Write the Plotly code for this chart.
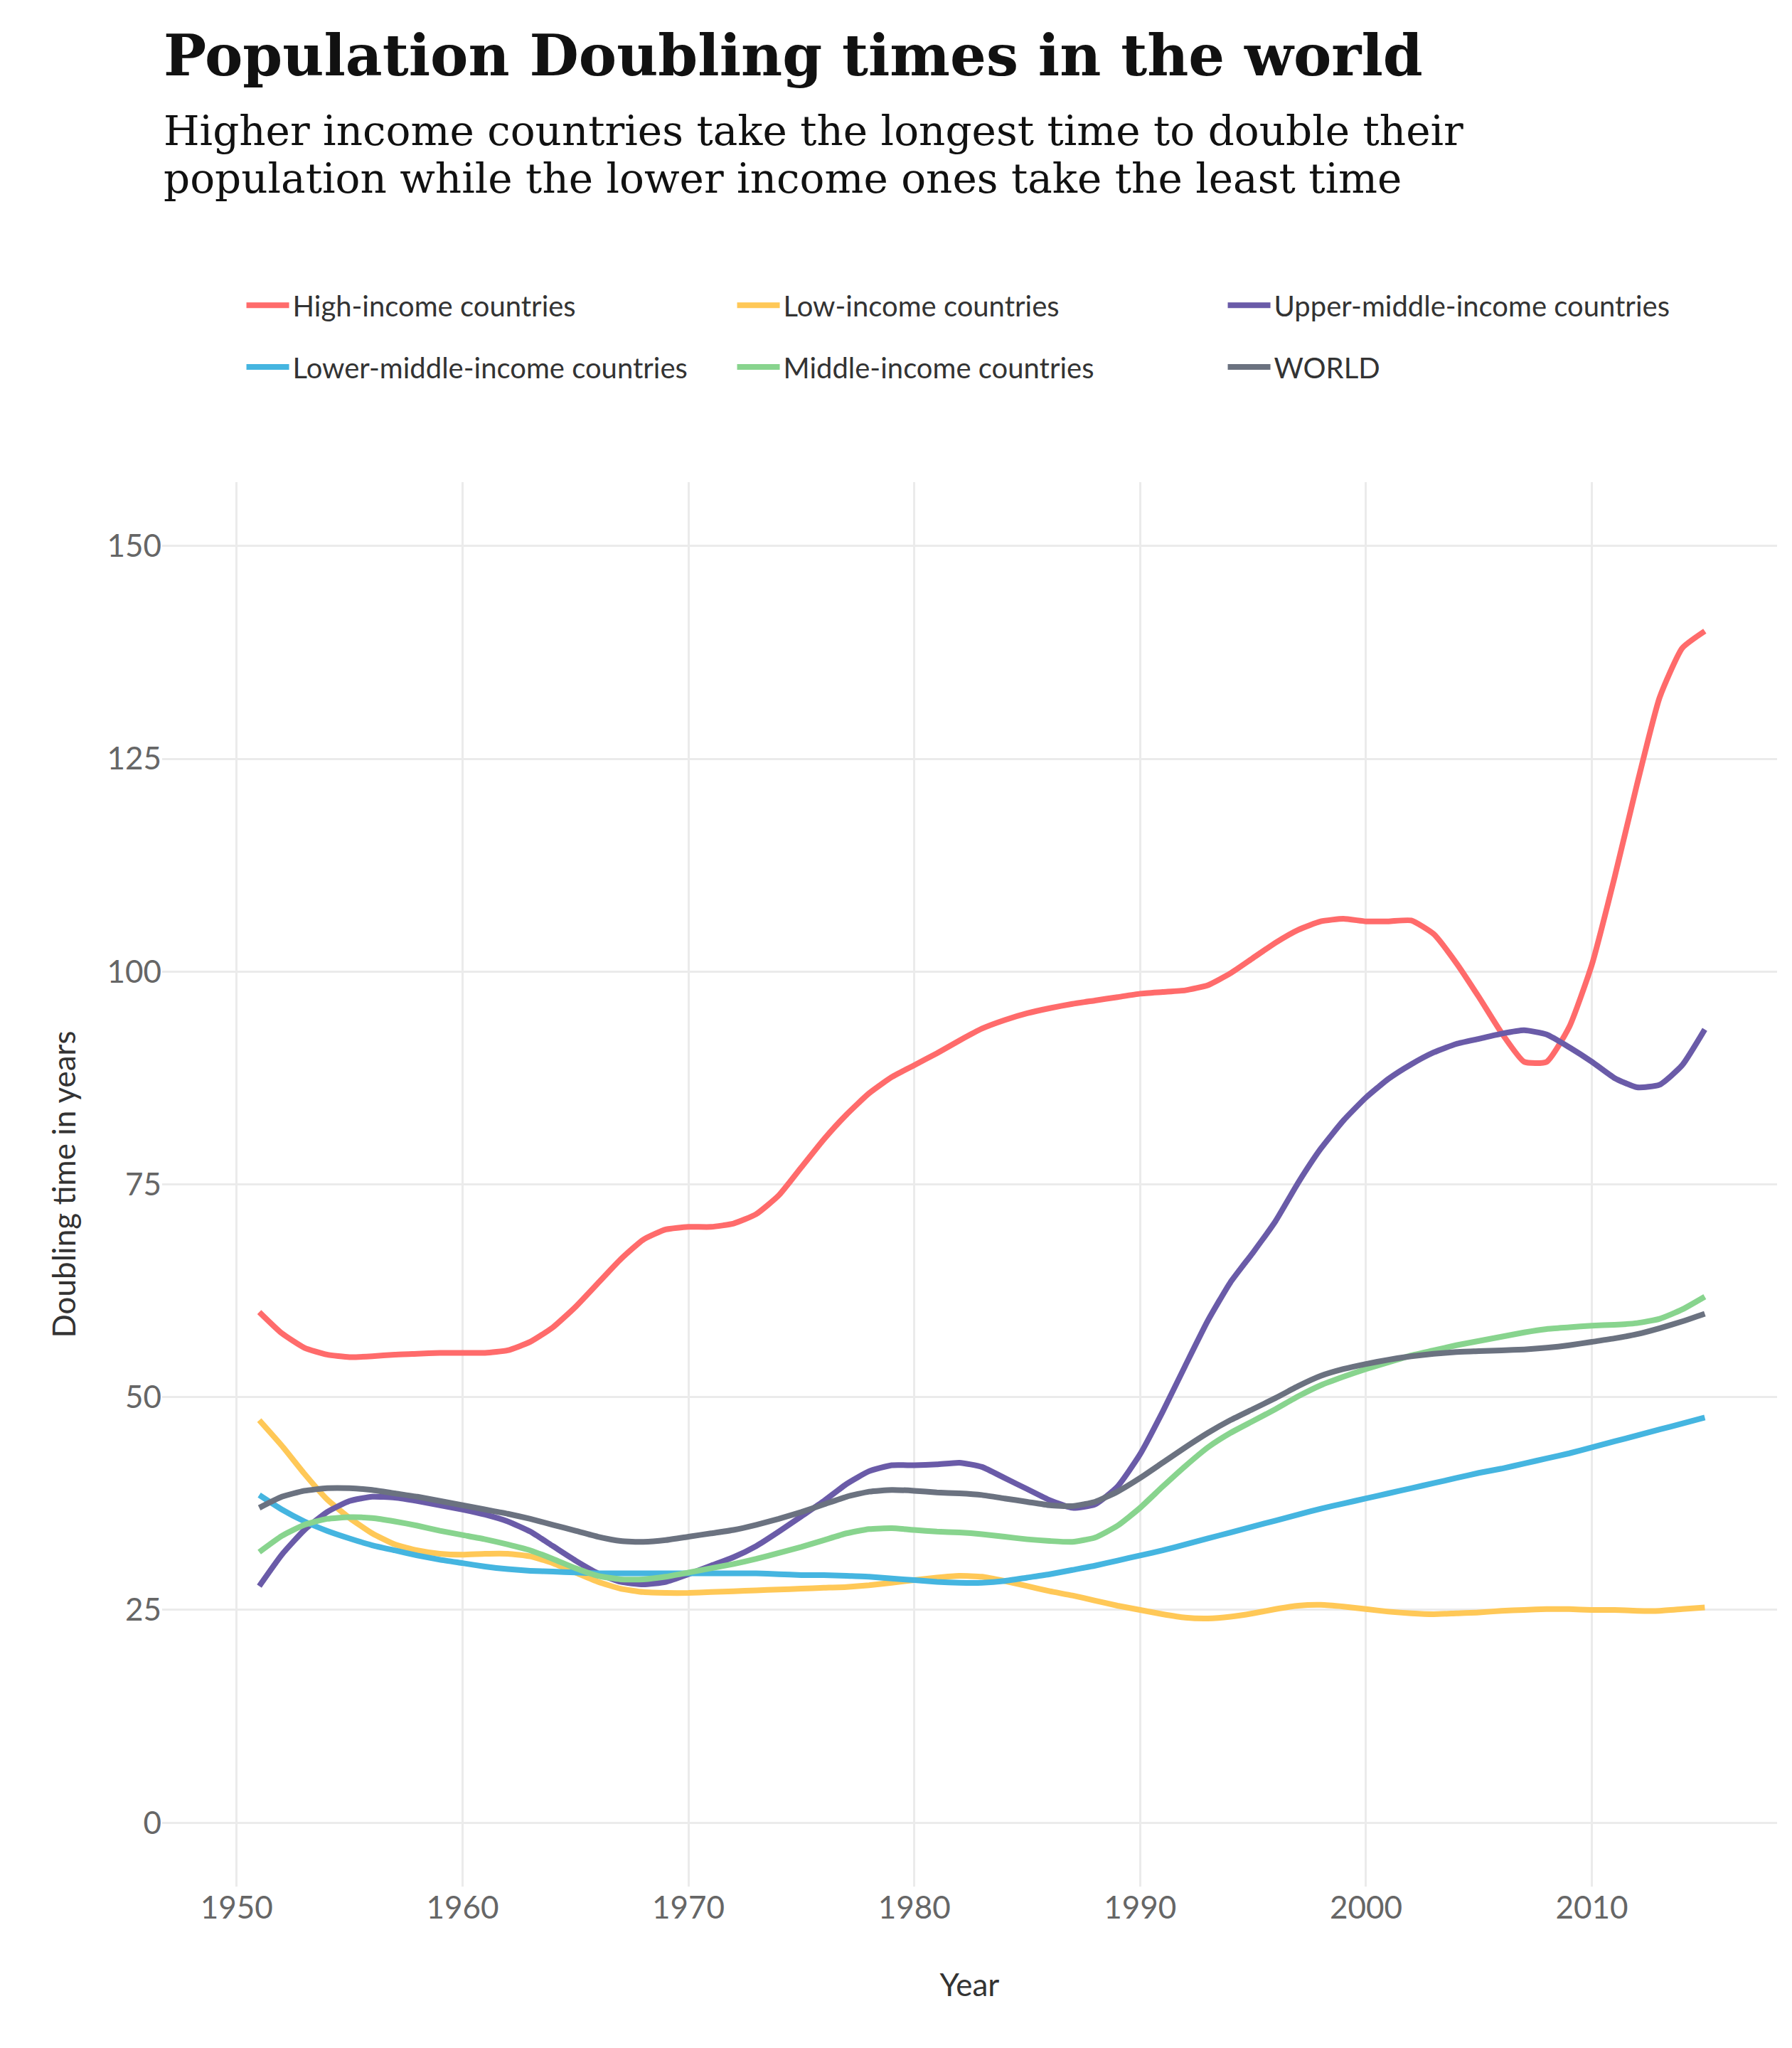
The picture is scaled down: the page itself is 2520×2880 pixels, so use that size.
import plotly.graph_objects as go

years = list(range(1951, 2016))

high_income = [60, 57.5, 55.8, 55, 54.7, 54.8, 55, 55.1, 55.2, 55.2,
               55.2, 55.5, 56.5, 58.2, 60.6, 63.4, 66.2, 68.5, 69.7, 70,
               70, 70.4, 71.5, 73.7, 77, 80.3, 83.2, 85.7, 87.6, 89,
               90.4, 91.9, 93.3, 94.3, 95.1, 95.7, 96.2, 96.6, 97, 97.4,
               97.6, 97.8, 98.4, 99.8, 101.6, 103.4, 104.9, 105.9, 106.2, 105.9,
               105.9, 106, 104.4, 101, 97, 92.8, 89.4, 89.4, 93.5, 100.8,
               111, 122, 132.2, 138, 140]
low_income = [47.3, 44.3, 41, 38, 35.8, 34, 32.7, 32, 31.6, 31.5,
              31.6, 31.6, 31.3, 30.5, 29.4, 28.3, 27.5, 27.1, 27, 27,
              27.1, 27.2, 27.3, 27.4, 27.5, 27.6, 27.7, 27.9, 28.2, 28.5,
              28.8, 29, 28.9, 28.4, 27.8, 27.2, 26.7, 26.1, 25.5, 25,
              24.5, 24.1, 24, 24.2, 24.6, 25.1, 25.5, 25.6, 25.4, 25.1,
              24.8, 24.6, 24.5, 24.6, 24.7, 24.9, 25, 25.1, 25.1, 25,
              25, 24.9, 24.9, 25.1, 25.3]
upper_middle = [27.8, 31.5, 34.4, 36.5, 37.8, 38.3, 38.2, 37.8, 37.3, 36.8,
                36.2, 35.4, 34.2, 32.5, 30.8, 29.3, 28.3, 28, 28.3, 29.2,
                30.2, 31.2, 32.5, 34.2, 36, 37.8, 39.8, 41.3, 42, 42,
                42.1, 42.3, 41.8, 40.5, 39.2, 37.9, 37, 37.4, 39.5, 43.3,
                48.3, 53.7, 59, 63.5, 67, 70.7, 75.2, 79.2, 82.5, 85.2,
                87.4, 89.1, 90.5, 91.5, 92.1, 92.7, 93.1, 92.6, 91.1, 89.4,
                87.5, 86.4, 86.7, 89, 93.2]
lower_middle = [38.5, 36.8, 35.4, 34.3, 33.4, 32.6, 32, 31.4, 30.9, 30.5,
                30.1, 29.8, 29.6, 29.5, 29.4, 29.3, 29.3, 29.3, 29.3, 29.3,
                29.3, 29.3, 29.3, 29.2, 29.1, 29.1, 29, 28.9, 28.7, 28.5,
                28.3, 28.2, 28.2, 28.4, 28.8, 29.2, 29.7, 30.2, 30.8, 31.4,
                32, 32.7, 33.4, 34.1, 34.8, 35.5, 36.2, 36.9, 37.5, 38.1,
                38.7, 39.3, 39.9, 40.5, 41.1, 41.6, 42.2, 42.8, 43.4, 44.1,
                44.8, 45.5, 46.2, 46.9, 47.6]
middle = [31.8, 33.7, 35, 35.7, 35.9, 35.8, 35.4, 34.9, 34.3, 33.8,
          33.3, 32.7, 32, 31, 29.9, 29, 28.6, 28.6, 28.9, 29.4,
          29.9, 30.4, 31, 31.7, 32.4, 33.2, 34, 34.5, 34.6, 34.4,
          34.2, 34.1, 33.9, 33.6, 33.3, 33.1, 33, 33.5, 34.9, 37,
          39.5, 41.9, 44.1, 45.8, 47.2, 48.6, 50.1, 51.4, 52.4, 53.3,
          54.1, 54.9, 55.5, 56.1, 56.6, 57.1, 57.6, 58, 58.2, 58.4,
          58.5, 58.7, 59.2, 60.3, 61.8]
world = [37, 38.3, 39, 39.3, 39.3, 39.1, 38.7, 38.3, 37.8, 37.3,
         36.8, 36.3, 35.7, 35, 34.3, 33.6, 33.1, 33, 33.2, 33.6,
         34, 34.4, 35, 35.7, 36.5, 37.4, 38.3, 38.9, 39.1, 39,
         38.8, 38.7, 38.5, 38.1, 37.7, 37.3, 37.2, 37.7, 38.9, 40.5,
         42.3, 44.1, 45.8, 47.3, 48.6, 49.9, 51.3, 52.5, 53.3, 53.9,
         54.4, 54.8, 55.1, 55.3, 55.4, 55.5, 55.6, 55.8, 56.1, 56.5,
         56.9, 57.4, 58.1, 58.9, 59.8]

# legend rows as in the reference: first three on row one, rest on row two
series = [
    ('High-income countries', high_income, '#FF6B6B', 'legend'),
    ('Low-income countries', low_income, '#FFC857', 'legend'),
    ('Upper-middle-income countries', upper_middle, '#6A5BA8', 'legend'),
    ('Lower-middle-income countries', lower_middle, '#45B5E0', 'legend2'),
    ('Middle-income countries', middle, '#88D48E', 'legend2'),
    ('WORLD', world, '#6B7280', 'legend2'),
]

fig = go.Figure()
for name, vals, color, leg in series:
    fig.add_trace(go.Scatter(
        x=years, y=vals, name=name, mode='lines', legend=leg,
        line=dict(color=color, width=8, shape='spline', smoothing=0.5),
    ))

legend_style = dict(orientation='h', xanchor='left', yanchor='middle',
                    entrywidth=615, font=dict(size=40, color='#333333'),
                    itemwidth=60, bgcolor='rgba(0,0,0,0)')

fig.update_layout(
    width=2520, height=2880,
    paper_bgcolor='white', plot_bgcolor='white',
    margin=dict(l=220, r=29, t=670, b=235),
    font=dict(family='Lato', color='#555555', size=40),
    legend=dict(x=0.05, y=1.126, **legend_style),
    legend2=dict(x=0.05, y=1.082, **legend_style),
    xaxis=dict(
        range=[1946.7, 2018.2], tickvals=[1950, 1960, 1970, 1980, 1990, 2000, 2010],
        showgrid=True, gridcolor='#EBEBEB', gridwidth=3, zeroline=False,
        showline=False, tickfont=dict(size=44, color='#666666'),
        title=dict(text='Year', font=dict(size=44, color='#333333'), standoff=70),
    ),
    yaxis=dict(
        range=[-7.5, 157.5], tickvals=[0, 25, 50, 75, 100, 125, 150],
        showgrid=True, gridcolor='#EBEBEB', gridwidth=3, zeroline=False,
        showline=False, tickfont=dict(size=44, color='#666666'),
        ticksuffix='  ',
        title=dict(text='Doubling time in years', font=dict(size=44, color='#333333'), standoff=30),
    ),
)

# title and subtitle as annotations so nothing gets clipped at the top
fig.add_annotation(text='<b>Population Doubling times in the world</b>',
                   xref='paper', yref='paper', x=-0.0, y=1.304,
                   xanchor='left', yanchor='middle', showarrow=False,
                   font=dict(family='DejaVu Serif', size=80, color='#111111'))
fig.add_annotation(text='Higher income countries take the longest time to double their',
                   xref='paper', yref='paper', x=-0.0, y=1.250,
                   xanchor='left', yanchor='middle', showarrow=False,
                   font=dict(family='DejaVu Serif', size=58, color='#111111'))
fig.add_annotation(text='population while the lower income ones take the least time',
                   xref='paper', yref='paper', x=-0.0, y=1.216,
                   xanchor='left', yanchor='middle', showarrow=False,
                   font=dict(family='DejaVu Serif', size=58, color='#111111'))

fig.write_html("out.html")
